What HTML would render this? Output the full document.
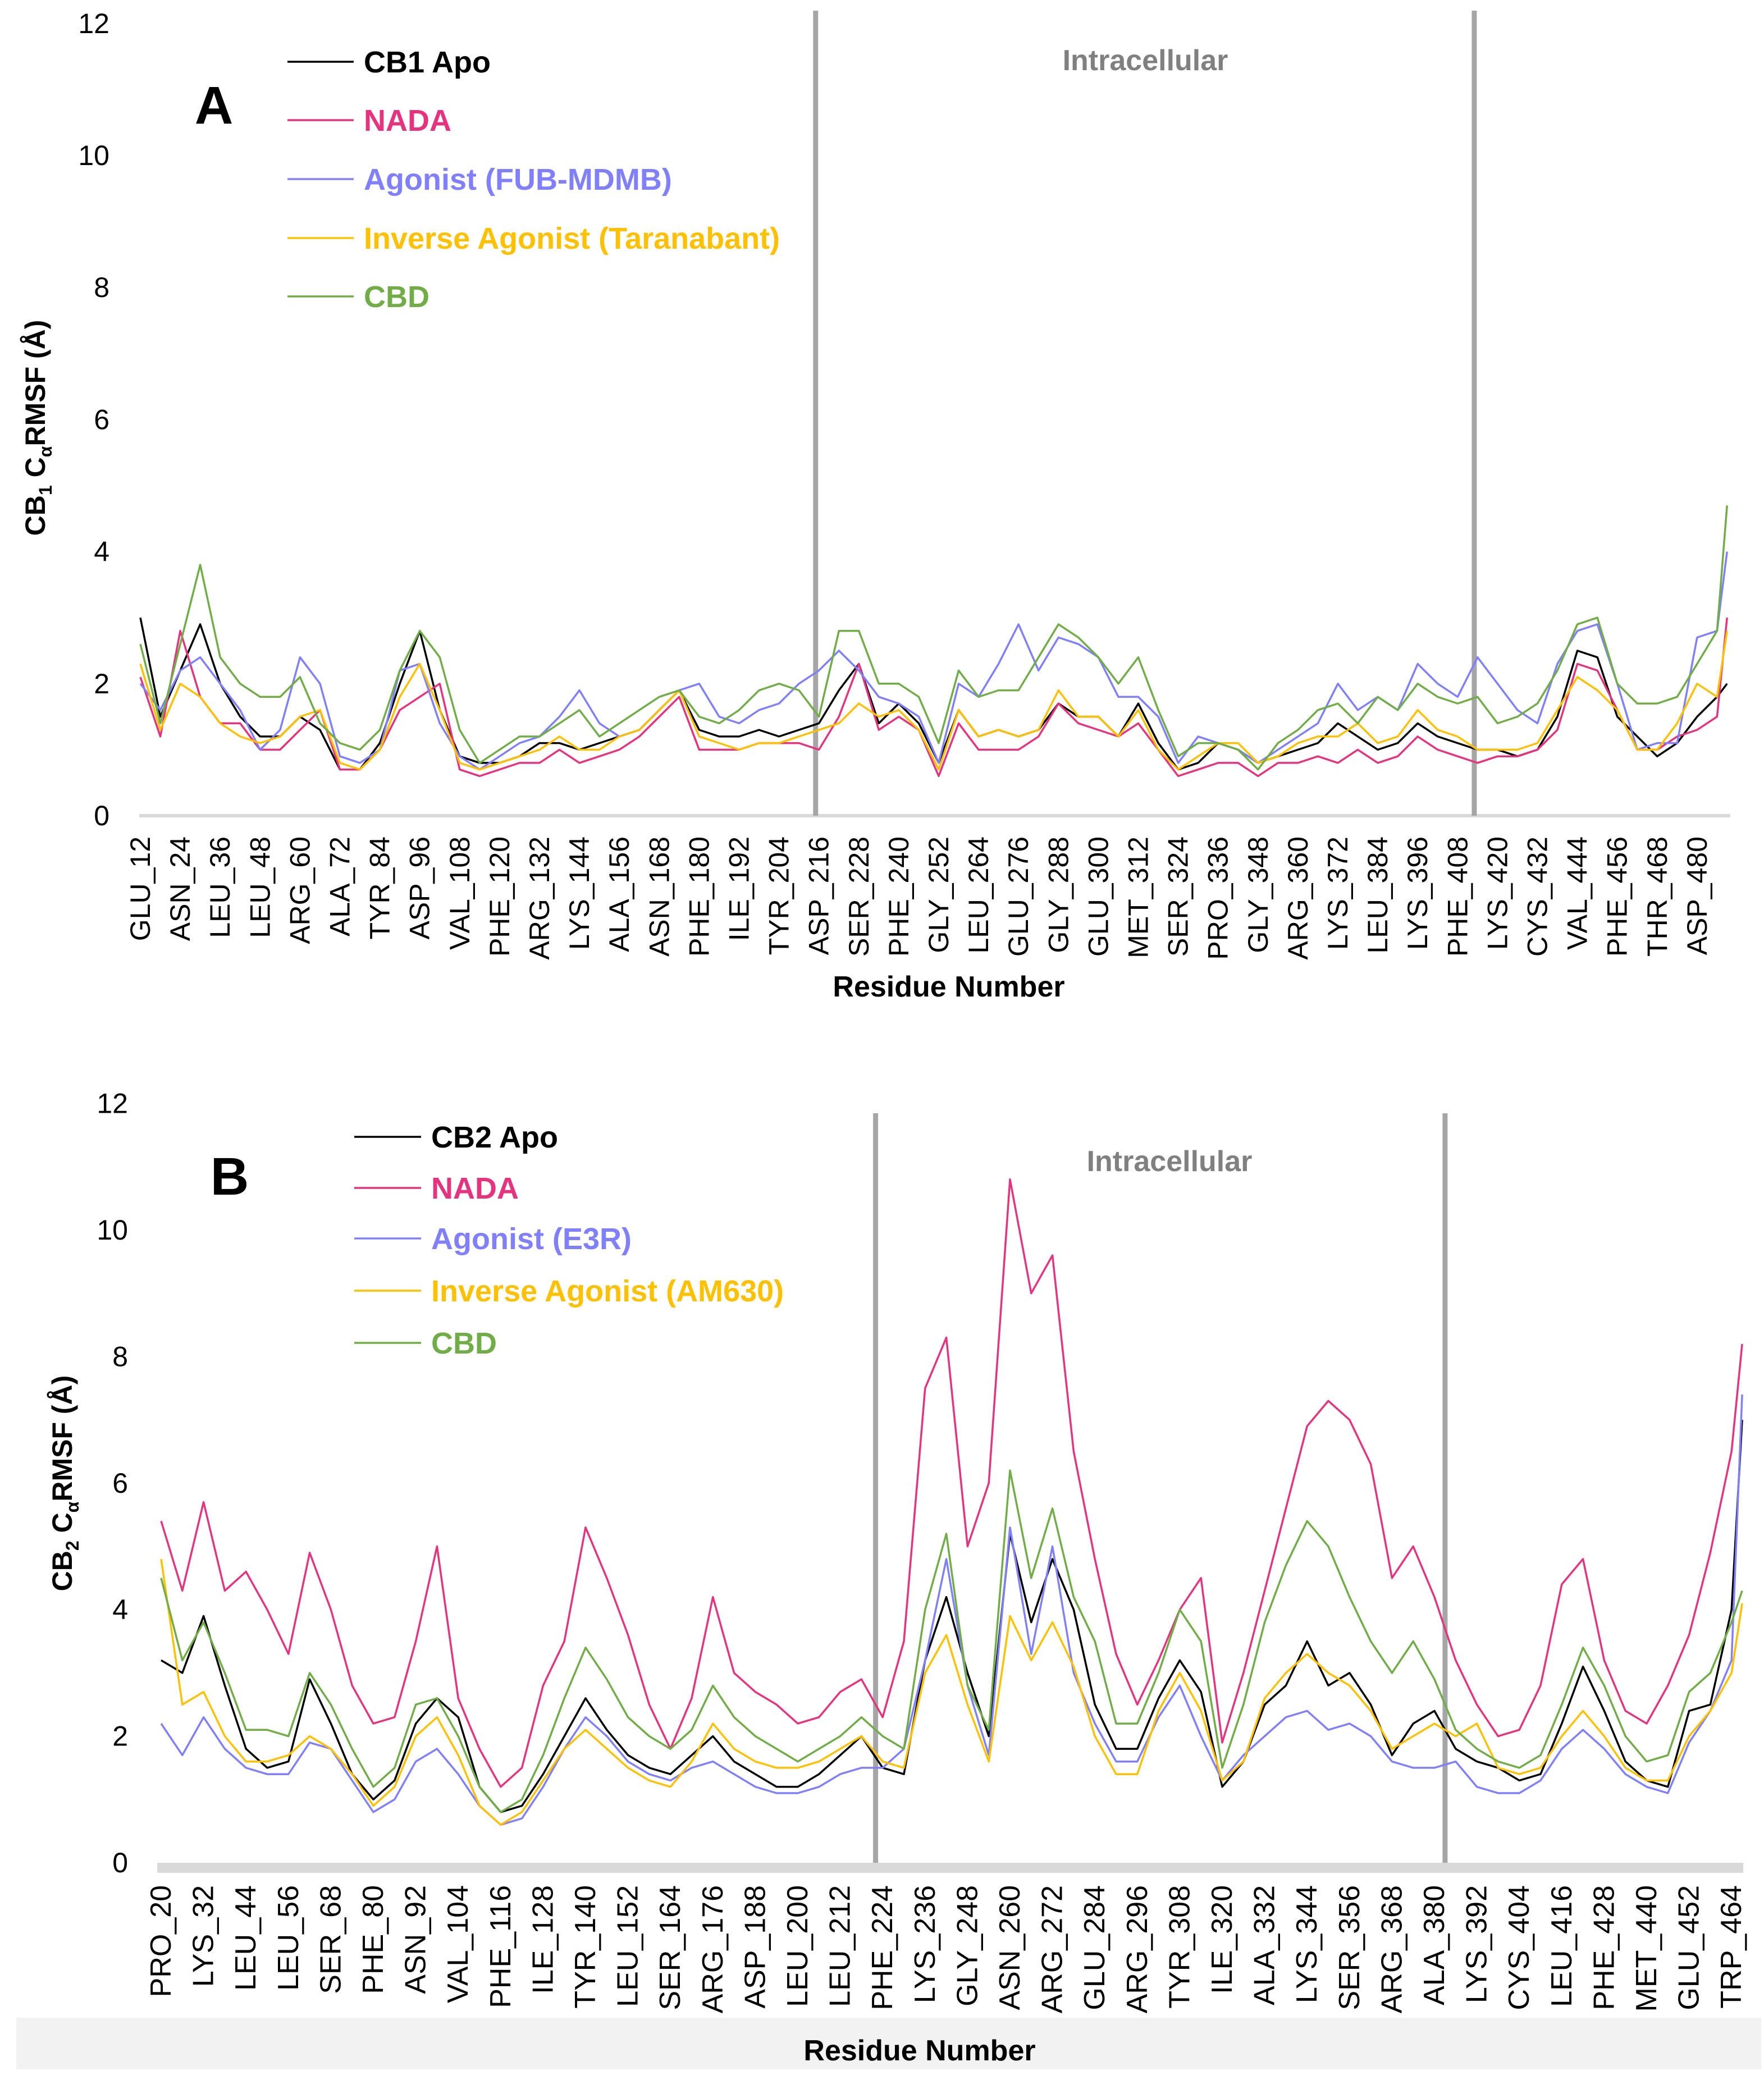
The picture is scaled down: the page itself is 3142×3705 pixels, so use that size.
<!DOCTYPE html>
<html><head><meta charset="utf-8"><style>
html,body{margin:0;padding:0;background:#fff}
svg{display:block}
</style></head><body>
<svg id="chart" width="3142" height="3705" viewBox="0 0 3142 3705" xmlns="http://www.w3.org/2000/svg" font-family="'Liberation Sans', sans-serif"></svg>
<script>
// ---- Chart A data (CB1) ----
const resA = [12,18,24,30,36,42,48,54,60,66,72,78,84,90,96,102,108,114,120,126,132,138,144,150,156,162,168,174,180,186,192,198,204,210,216,222,228,234,240,246,252,258,264,270,276,282,288,294,300,306,312,318,324,330,336,342,348,354,360,366,372,378,384,390,396,402,408,414,420,426,432,438,444,450,456,462,468,474,480,486,489];
const apoA = [3.0,1.5,2.2,2.9,2.0,1.5,1.2,1.2,1.5,1.3,0.7,0.7,1.1,2.0,2.8,1.6,0.9,0.8,0.8,0.9,1.1,1.1,1.0,1.1,1.2,1.3,1.6,1.9,1.3,1.2,1.2,1.3,1.2,1.3,1.4,1.9,2.3,1.4,1.7,1.4,0.8,1.6,1.2,1.3,1.2,1.3,1.7,1.5,1.5,1.2,1.7,1.1,0.7,0.8,1.1,1.0,0.8,0.9,1.0,1.1,1.4,1.2,1.0,1.1,1.4,1.2,1.1,1.0,1.0,0.9,1.0,1.5,2.5,2.4,1.5,1.2,0.9,1.1,1.5,1.8,2.0];
const nadaA = [2.1,1.2,2.8,1.8,1.4,1.4,1.0,1.0,1.3,1.6,0.7,0.7,1.0,1.6,1.8,2.0,0.7,0.6,0.7,0.8,0.8,1.0,0.8,0.9,1.0,1.2,1.5,1.8,1.0,1.0,1.0,1.1,1.1,1.1,1.0,1.5,2.3,1.3,1.5,1.3,0.6,1.4,1.0,1.0,1.0,1.2,1.7,1.4,1.3,1.2,1.4,1.0,0.6,0.7,0.8,0.8,0.6,0.8,0.8,0.9,0.8,1.0,0.8,0.9,1.2,1.0,0.9,0.8,0.9,0.9,1.0,1.3,2.3,2.2,1.6,1.0,1.0,1.2,1.3,1.5,3.0];
const agoA = [2.0,1.6,2.2,2.4,2.0,1.6,1.0,1.3,2.4,2.0,0.9,0.8,1.0,2.2,2.3,1.4,0.9,0.7,0.9,1.1,1.2,1.5,1.9,1.4,1.2,1.3,1.6,1.9,2.0,1.5,1.4,1.6,1.7,2.0,2.2,2.5,2.2,1.8,1.7,1.5,0.8,2.0,1.8,2.3,2.9,2.2,2.7,2.6,2.4,1.8,1.8,1.5,0.8,1.2,1.1,1.0,0.8,1.0,1.2,1.4,2.0,1.6,1.8,1.6,2.3,2.0,1.8,2.4,2.0,1.6,1.4,2.3,2.8,2.9,2.0,1.0,1.1,1.1,2.7,2.8,4.0];
const invA = [2.3,1.3,2.0,1.8,1.4,1.2,1.1,1.2,1.5,1.6,0.8,0.7,1.0,1.8,2.3,1.6,0.8,0.7,0.8,0.9,1.0,1.2,1.0,1.0,1.2,1.3,1.6,1.9,1.2,1.1,1.0,1.1,1.1,1.2,1.3,1.4,1.7,1.5,1.6,1.3,0.7,1.6,1.2,1.3,1.2,1.3,1.9,1.5,1.5,1.2,1.6,1.0,0.7,0.9,1.1,1.1,0.8,0.9,1.1,1.2,1.2,1.4,1.1,1.2,1.6,1.3,1.2,1.0,1.0,1.0,1.1,1.6,2.1,1.9,1.6,1.0,1.0,1.4,2.0,1.8,2.8];
const cbdA = [2.6,1.4,2.6,3.8,2.4,2.0,1.8,1.8,2.1,1.4,1.1,1.0,1.3,2.2,2.8,2.4,1.3,0.8,1.0,1.2,1.2,1.4,1.6,1.2,1.4,1.6,1.8,1.9,1.5,1.4,1.6,1.9,2.0,1.9,1.5,2.8,2.8,2.0,2.0,1.8,1.1,2.2,1.8,1.9,1.9,2.4,2.9,2.7,2.4,2.0,2.4,1.6,0.9,1.1,1.1,1.0,0.7,1.1,1.3,1.6,1.7,1.4,1.8,1.6,2.0,1.8,1.7,1.8,1.4,1.5,1.7,2.2,2.9,3.0,2.0,1.7,1.7,1.8,2.3,2.8,4.7];
const ticksA = ["GLU_12","ASN_24","LEU_36","LEU_48","ARG_60","ALA_72","TYR_84","ASP_96","VAL_108","PHE_120","ARG_132","LYS_144","ALA_156","ASN_168","PHE_180","ILE_192","TYR_204","ASP_216","SER_228","PHE_240","GLY_252","LEU_264","GLU_276","GLY_288","GLU_300","MET_312","SER_324","PRO_336","GLY_348","ARG_360","LYS_372","LEU_384","LYS_396","PHE_408","LYS_420","CYS_432","VAL_444","PHE_456","THR_468","ASP_480"];
const yTicks = [0,2,4,6,8,10,12];
const bordersA = [215,413];
// ---- Chart B data (CB2) ----
const resB = [20,26,32,38,44,50,56,62,68,74,80,86,92,98,104,110,116,122,128,134,140,146,152,158,164,170,176,182,188,194,200,206,212,218,224,230,236,242,248,254,260,266,272,278,284,290,296,302,308,314,320,326,332,338,344,350,356,362,368,374,380,386,392,398,404,410,416,422,428,434,440,446,452,458,464,467];
const apoB = [3.2,3.0,3.9,2.8,1.8,1.5,1.6,2.9,2.2,1.4,1.0,1.3,2.2,2.6,2.3,1.2,0.8,0.9,1.4,2.0,2.6,2.1,1.7,1.5,1.4,1.7,2.0,1.6,1.4,1.2,1.2,1.4,1.7,2.0,1.5,1.4,3.2,4.2,3.0,2.0,5.2,3.8,4.8,4.0,2.5,1.8,1.8,2.6,3.2,2.7,1.2,1.6,2.5,2.8,3.5,2.8,3.0,2.5,1.7,2.2,2.4,1.8,1.6,1.5,1.3,1.4,2.2,3.1,2.4,1.6,1.3,1.2,2.4,2.5,4.0,7.0];
const nadaB = [5.4,4.3,5.7,4.3,4.6,4.0,3.3,4.9,4.0,2.8,2.2,2.3,3.5,5.0,2.6,1.8,1.2,1.5,2.8,3.5,5.3,4.5,3.6,2.5,1.8,2.6,4.2,3.0,2.7,2.5,2.2,2.3,2.7,2.9,2.3,3.5,7.5,8.3,5.0,6.0,10.8,9.0,9.6,6.5,4.8,3.3,2.5,3.2,4.0,4.5,1.9,3.0,4.3,5.6,6.9,7.3,7.0,6.3,4.5,5.0,4.2,3.2,2.5,2.0,2.1,2.8,4.4,4.8,3.2,2.4,2.2,2.8,3.6,4.9,6.5,8.2];
const agoB = [2.2,1.7,2.3,1.8,1.5,1.4,1.4,1.9,1.8,1.3,0.8,1.0,1.6,1.8,1.4,0.9,0.6,0.7,1.2,1.8,2.3,2.0,1.6,1.4,1.3,1.5,1.6,1.4,1.2,1.1,1.1,1.2,1.4,1.5,1.5,1.8,3.2,4.8,2.8,1.7,5.3,3.3,5.0,3.0,2.2,1.6,1.6,2.3,2.8,2.0,1.3,1.7,2.0,2.3,2.4,2.1,2.2,2.0,1.6,1.5,1.5,1.6,1.2,1.1,1.1,1.3,1.8,2.1,1.8,1.4,1.2,1.1,1.9,2.4,3.2,7.4];
const invB = [4.8,2.5,2.7,2.0,1.6,1.6,1.7,2.0,1.8,1.4,0.9,1.2,2.0,2.3,1.7,0.9,0.6,0.8,1.3,1.8,2.1,1.8,1.5,1.3,1.2,1.6,2.2,1.8,1.6,1.5,1.5,1.6,1.8,2.0,1.6,1.5,3.0,3.6,2.5,1.6,3.9,3.2,3.8,3.1,2.0,1.4,1.4,2.4,3.0,2.4,1.3,1.6,2.6,3.0,3.3,3.0,2.8,2.4,1.8,2.0,2.2,2.0,2.2,1.5,1.4,1.5,2.0,2.4,2.0,1.5,1.3,1.3,2.0,2.4,3.0,4.1];
const cbdB = [4.5,3.2,3.8,3.0,2.1,2.1,2.0,3.0,2.5,1.8,1.2,1.5,2.5,2.6,2.0,1.2,0.8,1.0,1.7,2.6,3.4,2.9,2.3,2.0,1.8,2.1,2.8,2.3,2.0,1.8,1.6,1.8,2.0,2.3,2.0,1.8,4.0,5.2,2.8,2.1,6.2,4.5,5.6,4.2,3.5,2.2,2.2,3.0,4.0,3.5,1.5,2.5,3.8,4.7,5.4,5.0,4.2,3.5,3.0,3.5,2.9,2.1,1.8,1.6,1.5,1.7,2.5,3.4,2.8,2.0,1.6,1.7,2.7,3.0,3.8,4.3];
const ticksB = ["PRO_20","LYS_32","LEU_44","LEU_56","SER_68","PHE_80","ASN_92","VAL_104","PHE_116","ILE_128","TYR_140","LEU_152","SER_164","ARG_176","ASP_188","LEU_200","LEU_212","PHE_224","LYS_236","GLY_248","ASN_260","ARG_272","GLU_284","ARG_296","TYR_308","ILE_320","ALA_332","LYS_344","SER_356","ARG_368","ALA_380","LYS_392","CYS_404","LEU_416","PHE_428","MET_440","GLU_452","TRP_464"];
const bordersB = [222,383];

const NS = "http://www.w3.org/2000/svg";
const svg = document.getElementById('chart');
function mk(tag, attrs, parent, text){
  const e = document.createElementNS(NS, tag);
  for (const k in attrs) e.setAttribute(k, attrs[k]);
  if (text !== undefined) e.textContent = text;
  (parent || svg).appendChild(e);
  return e;
}
const COLORS = {apo:"#000000", nada:"#e6337e", ago:"#8080ff", inv:"#ffc000", cbd:"#70ad47"};

function drawChart(cfg){
  const g = mk('g', {});
  
  
  const xs = r => cfg.x0 + (r - cfg.r0) * cfg.pxPerRes;
  const ys = v => cfg.yZero - v * cfg.pxPerUnit;
  // gray footer band
  if (cfg.footer){
    const f = mk('rect', {x:29, y:3594, width:3108, height:92, fill:"#f2f2f2"}, g);
    
    
  }
  // y tick labels
  yTicks.forEach(t => {
    const tl = mk('text', {x:cfg.yLabelX, y:ys(t)+17, 'font-size':50, 'text-anchor':'end', fill:'#000'}, g, String(t));
    
    
  });
  // axis
  if (cfg.tickBand){
    const band = mk('rect', {x:cfg.axisX1, y:cfg.yZero, width:cfg.axisX2-cfg.axisX1, height:18, fill:'#d9d9d9'}, g);
    
    
  } else {
    const ax = mk('line', {x1:cfg.axisX1, x2:cfg.axisX2, y1:cfg.yZero, y2:cfg.yZero, stroke:'#d9d9d9', 'stroke-width':6}, g);
    
    
  }
  // x tick labels
  cfg.ticks.forEach(lbl => {
    const r = +lbl.split('_')[1];
    const x = xs(r) + 17, y = cfg.labelTop;
    const t = mk('text', {x:x, y:y, 'font-size':cfg.tickFont, 'text-anchor':'end', transform:`rotate(-90 ${x} ${y})`, fill:'#000'}, g, lbl);
    
    
  });
  // region borders
  cfg.borders.forEach(r => {
    const l = mk('line', {x1:xs(r), x2:xs(r), y1:cfg.borderTop, y2:cfg.yZero, stroke:'#a6a6a6', 'stroke-width':9}, g);
    
    
  });
  // series
  cfg.series.forEach(s => {
    const d = cfg.res.map((r,i) => (i ? 'L' : 'M') + xs(r).toFixed(1) + ' ' + ys(s.vals[i]).toFixed(1)).join(' ');
    const p = mk('path', {d:d, fill:'none', stroke:s.color, 'stroke-width':3.5, 'stroke-linejoin':'round'}, g);
    
    
  });
  // legend
  cfg.series.forEach((s,i) => {
    const y = cfg.legY[i];
    const ln = mk('line', {x1:cfg.legX1, x2:cfg.legX2, y1:y, y2:y, stroke:s.color, 'stroke-width':3.5}, g);
    
    
    const t = mk('text', {x:cfg.legX2+18, y:y+19, 'font-size':cfg.legFont, 'font-weight':'bold', fill:s.color==="#000000"?"#000":s.textColor, 'font-family':cfg.legFamily}, g, s.label);
    
    
  });
  // panel letter
  const L = mk('text', {x:cfg.letterX, y:cfg.letterY, 'font-size':95, 'font-weight':'bold', 'text-anchor':'middle', fill:'#000', 'font-family':cfg.legFamily}, g, cfg.letter);
  
  
  // intracellular label
  const ic = mk('text', {x:cfg.icX, y:cfg.icY, 'font-size':52, 'font-weight':'bold', 'text-anchor':'middle', fill:'#808080', 'font-family':cfg.legFamily}, g, 'Intracellular');
  
  
  // axis titles
  const xt = mk('text', {x:cfg.xtX, y:cfg.xtY, 'font-size':52, 'font-weight':'bold', 'text-anchor':'middle', fill:'#000', 'font-family':cfg.legFamily}, g, 'Residue Number');
  
  
  const yt = mk('text', {x:cfg.ytX, y:cfg.ytY, 'font-size':50, 'font-weight':'bold', 'text-anchor':'middle', fill:'#000', transform:`rotate(-90 ${cfg.ytX} ${cfg.ytY})`}, g);
  
  
  mk('tspan', {}, yt, cfg.ytPrefix);
  mk('tspan', {'font-size':32, dy:12}, yt, cfg.ytSub);
  mk('tspan', {dy:-12}, yt, ' C');
  mk('tspan', {'font-size':32, dy:12}, yt, 'α');
  mk('tspan', {dy:-12}, yt, 'RMSF (Å)');
}

drawChart({
  name:'panel-a-cb1', res:resA, r0:12, x0:250, pxPerRes:5.925, yZero:1453, pxPerUnit:117.6,
  axisX1:248, axisX2:3082, yLabelX:195, ticks:ticksA, labelTop:1490, tickFont:50,
  borders:bordersA, borderTop:19,
  series:[
    {key:'apo', vals:apoA, color:COLORS.apo, textColor:'#000', label:'CB1 Apo'},
    {key:'nada', vals:nadaA, color:COLORS.nada, textColor:'#e6337e', label:'NADA'},
    {key:'agonist', vals:agoA, color:COLORS.ago, textColor:'#8080ff', label:'Agonist (FUB-MDMB)'},
    {key:'inverse-agonist', vals:invA, color:COLORS.inv, textColor:'#ffc000', label:'Inverse Agonist (Taranabant)'},
    {key:'cbd', vals:cbdA, color:COLORS.cbd, textColor:'#70ad47', label:'CBD'}],
  legX1:512, legX2:630, legY:[110,214,319,424,528], legFont:54, legFamily:"'Liberation Sans', sans-serif",
  letter:'A', letterX:381, letterY:220, icX:2040, icY:125,
  xtX:1690, xtY:1775, ytX:80, ytY:762, ytPrefix:'CB', ytSub:'1', footer:false, tickBand:false
});
drawChart({
  name:'panel-b-cb2', res:resB, r0:20, x0:287, pxPerRes:6.30, yZero:3318, pxPerUnit:112.7,
  axisX1:280, axisX2:3105, yLabelX:228, ticks:ticksB, labelTop:3358, tickFont:52,
  borders:bordersB, borderTop:1983,
  series:[
    {key:'apo', vals:apoB, color:COLORS.apo, textColor:'#000', label:'CB2 Apo'},
    {key:'nada', vals:nadaB, color:COLORS.nada, textColor:'#e6337e', label:'NADA'},
    {key:'agonist', vals:agoB, color:COLORS.ago, textColor:'#8080ff', label:'Agonist (E3R)'},
    {key:'inverse-agonist', vals:invB, color:COLORS.inv, textColor:'#ffc000', label:'Inverse Agonist (AM630)'},
    {key:'cbd', vals:cbdB, color:COLORS.cbd, textColor:'#70ad47', label:'CBD'}],
  legX1:631, legX2:750, legY:[2025,2116,2206,2299,2392], legFont:54, legFamily:"'Liberation Sans Narrow', 'Liberation Sans', sans-serif",
  letter:'B', letterX:409, letterY:2128, icX:2083, icY:2086,
  xtX:1638, xtY:3670, ytX:128, ytY:2642, ytPrefix:'CB', ytSub:'2', footer:true, tickBand:true
});
</script>
</body></html>
